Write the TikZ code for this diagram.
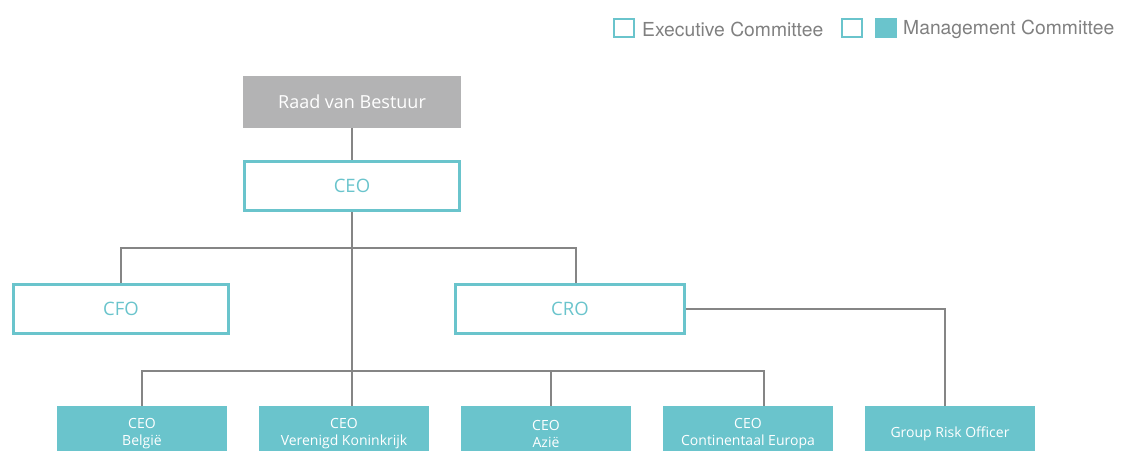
\documentclass[tikz,border=0pt]{standalone}
\usepackage{fontspec}
\setmainfont{Open Sans}
\newfontfamily\legendfont{TeX Gyre Heros}
\usetikzlibrary{positioning}
\definecolor{kteal}{RGB}{106,196,204}
\definecolor{kgray}{RGB}{179,179,180}
\definecolor{klijn}{RGB}{133,133,133}
\definecolor{ktekst}{RGB}{128,128,128}

\tikzset{
	bestuur/.style={fill=kgray,text=white,minimum width=218pt,minimum height=52pt,inner sep=0pt,font=\fontsize{18}{21}\selectfont},
	exco/.style={draw=kteal,line width=2.6pt,text=kteal,minimum width=215pt,minimum height=49pt,inner sep=0pt,font=\fontsize{18.5}{21}\selectfont},
	manco/.style={fill=kteal,text=white,minimum width=170pt,minimum height=56pt,inner sep=0pt,align=center,font=\fontsize{14}{17}\selectfont},
	lijn/.style={draw=klijn,line width=1.4pt},
	legtekst/.style={anchor=west,inner sep=0pt,text=ktekst,font=\legendfont\fontsize{19.3}{22}\selectfont}
}

\begin{document}
\begin{tikzpicture}[x=1pt,y=-1pt]
	\useasboundingbox (0,0) rectangle (1130,450);
	% legende
	\node[draw=kteal,line width=2pt,minimum width=20pt,minimum height=18pt,inner sep=0pt] (legex) at (624,28) {};
	\node[legtekst] (legextxt) at (642,29) {Executive Committee};
	\node[draw=kteal,line width=2pt,minimum width=20pt,minimum height=18pt,inner sep=0pt] (legmc) at (852,28) {};
	\node[fill=kteal,minimum width=22pt,minimum height=20pt,inner sep=0pt] (legmcfill) at (886,28) {};
	\node[legtekst] (legmctxt) at (903,29) {Management Committee};
	% organen
	\node[bestuur] (raad) at (352,102) {Raad van Bestuur};
	\node[exco] (ceo) at (352,186) {CEO};
	\node[exco] (cfo) at (121,309) {CFO};
	\node[exco,minimum width=229pt] (cro) at (570,309) {CRO};
	\node[manco] (be) at (142,434) {CEO\\Belgi\"e};
	\node[manco] (vk) at (344,434) {CEO\\Verenigd Koninkrijk};
	\node[manco] (az) at (546,434) {CEO\\Azi\"e};
	\node[manco] (ce) at (748,434) {CEO\\Continentaal Europa};
	\node[manco] (gro) at (950,434) {Group Risk Officer};
	% verbindingen
	\coordinate (bus1) at (0,248);
	\coordinate (bus2) at (0,371);
	\draw[lijn] (raad) -- (ceo);
	\draw[lijn] (ceo.south) -- (ceo.south |- vk.north);
	\draw[lijn] (cfo.north) |- (bus1 -| ceo.south) -| ([xshift=6pt]cro.north);
	\draw[lijn] (be.north) |- (bus2 -| ceo.south) -| ([xshift=16pt]ce.north);
	\draw[lijn] ([xshift=5pt]az.north) -- ([xshift=5pt]az.north |- bus2);
	\draw[lijn] (cro.east) -| ([xshift=-5pt]gro.north);
\end{tikzpicture}
\end{document}
